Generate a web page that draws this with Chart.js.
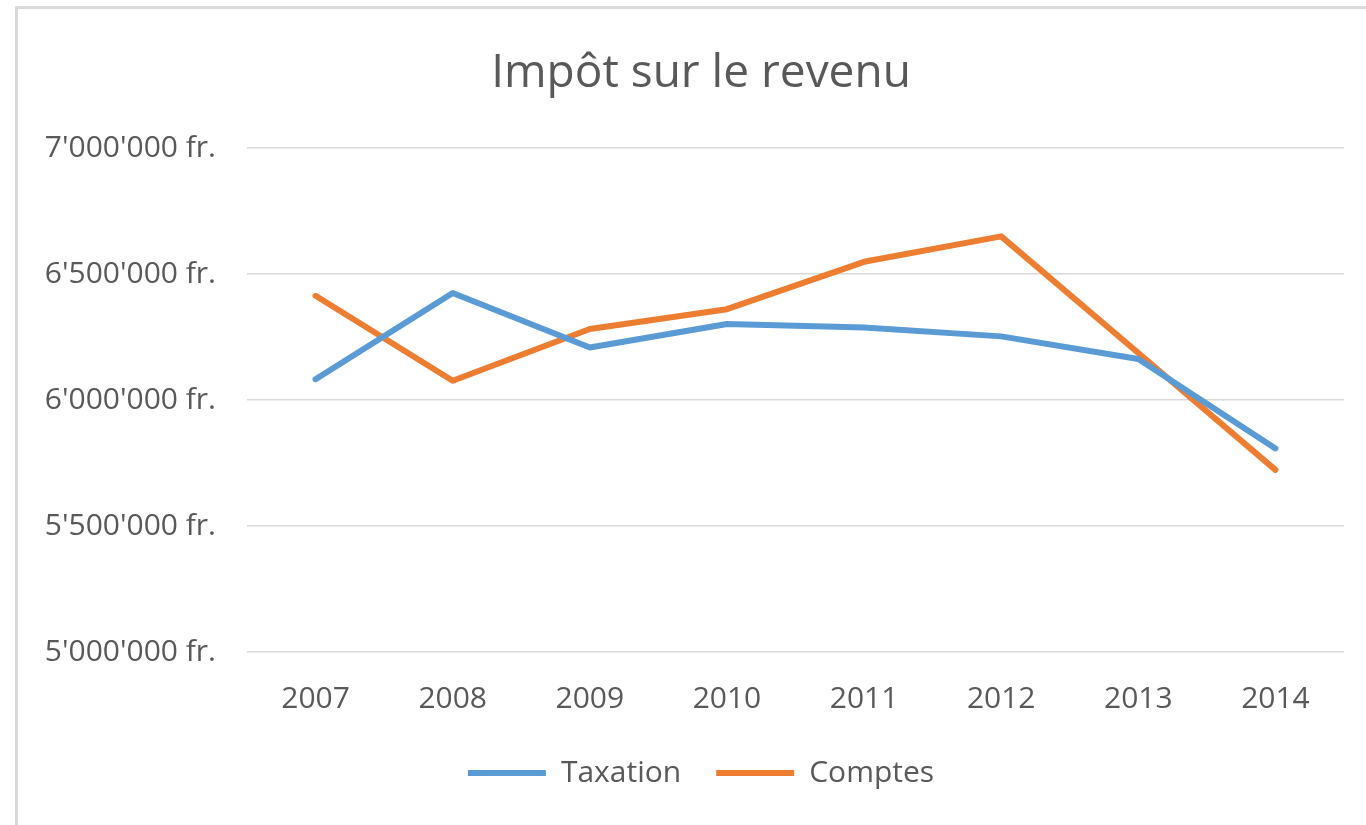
<!DOCTYPE html>
<html>
<head>
<meta charset="utf-8">
<script src="https://cdn.jsdelivr.net/npm/chart.js@4.4.0/dist/chart.umd.min.js"></script>
<style>
  html, body { margin: 0; padding: 0; background: #fff; }
  body { width: 1366px; height: 825px; position: relative; overflow: hidden; }
  #frame { position: absolute; left: 15px; top: 6px; right: -10px; bottom: -10px;
           border-top: 3px solid #d9d9d9; border-left: 3px solid #d9d9d9; }
  #wrap { position: absolute; left: 0; top: 0; width: 1402px; height: 825px; }
</style>
</head>
<body>
<div id="frame"></div>
<div id="wrap"><canvas id="c"></canvas></div>
<script>
const years = ['2007', '2008', '2009', '2010', '2011', '2012', '2013', '2014'];
const taxation = [6083000, 6425000, 6209000, 6302000, 6288000, 6253000, 6163000, 5808000];
const comptes  = [6414000, 6077000, 6282000, 6361000, 6549000, 6650000, 6187000, 5723000];
const yMin = 5000000, yMax = 7000000, yStep = 500000;
const chartTitle = 'Impôt sur le revenu';
const seriesNames = ['Taxation', 'Comptes'];

const textColor = '#595959';
const fontFamily = '"Open Sans", "Liberation Sans", sans-serif';

function fmt(v) {
  return String(Math.round(v)).replace(/\B(?=(\d{3})+(?!\d))/g, "'") + ' fr.';
}

new Chart(document.getElementById('c'), {
  type: 'line',
  data: {
    labels: years,
    datasets: [
      { label: seriesNames[0], data: taxation, borderColor: '#5B9BD5', backgroundColor: '#5B9BD5',
        borderWidth: 6, borderCapStyle: 'round', borderJoinStyle: 'round', pointRadius: 0, tension: 0 },
      { label: seriesNames[1], data: comptes, borderColor: '#ED7D31', backgroundColor: '#ED7D31',
        borderWidth: 6, borderCapStyle: 'round', borderJoinStyle: 'round', pointRadius: 0, tension: 0 }
    ]
  },
  options: {
    responsive: true,
    maintainAspectRatio: false,
    animation: false,
    devicePixelRatio: 1,
    layout: { padding: { left: 0, right: 0, top: 0, bottom: 27 } },
    plugins: {
      title: {
        display: true, text: chartTitle, color: textColor,
        font: { family: fontFamily, size: 46, weight: 'normal' },
        padding: { top: 46, bottom: 47 }
      },
      legend: {
        display: true, position: 'bottom',
        labels: {
          color: textColor, font: { family: fontFamily, size: 30 },
          usePointStyle: true, pointStyle: 'line', pointStyleWidth: 78, boxHeight: 6,
          padding: 35
        }
      },
      tooltip: { enabled: false }
    },
    scales: {
      x: {
        offset: true,
        grid: { display: false, drawTicks: false },
        border: { display: false },
        ticks: { color: textColor, font: { family: fontFamily, size: 30 }, padding: 29, maxRotation: 0 },
        afterFit: (s) => { s.height = 71; }
      },
      y: {
        min: yMin, max: yMax,
        grid: { color: '#d9d9d9', lineWidth: 1.5, drawTicks: false },
        border: { display: false },
        ticks: { stepSize: yStep, color: textColor, font: { family: fontFamily, size: 30 }, padding: 31,
                 callback: (v) => fmt(v) },
        afterFit: (s) => { s.width = 247; }
      },
      yRight: {
        position: 'right',
        min: yMin, max: yMax,
        grid: { display: false, drawTicks: false },
        border: { display: false },
        ticks: { display: false },
        afterFit: (s) => { s.width = 58; }
      }
    }
  }
});
</script>
</body>
</html>
